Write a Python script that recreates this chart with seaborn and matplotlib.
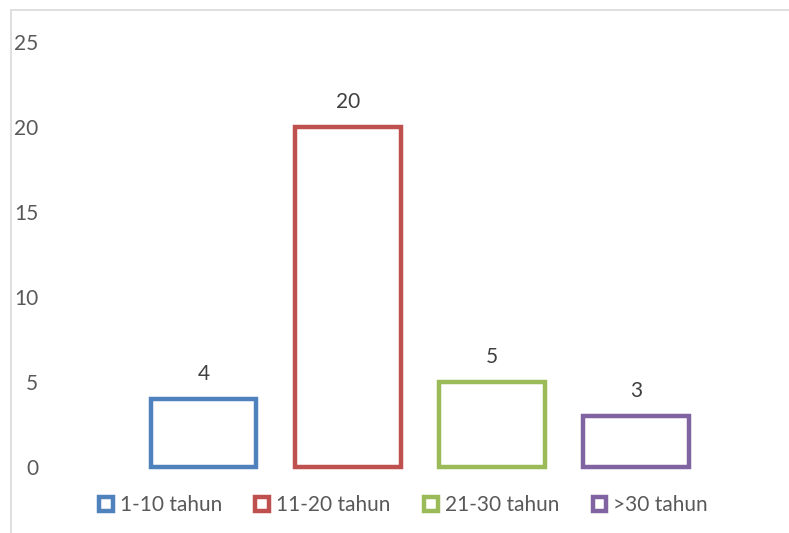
import matplotlib
matplotlib.use("Agg")
import matplotlib.pyplot as plt
import seaborn as sns
import pandas as pd
from matplotlib.patches import Patch
from matplotlib.lines import Line2D

categories = ["1-10 tahun", "11-20 tahun", "21-30 tahun", ">30 tahun"]
values = [4, 20, 5, 3]
colors = ["#4F81BD", "#C0504D", "#9BBB59", "#8064A2"]
yticks = [0, 5, 10, 15, 20, 25]

sns.set_theme(style="white")
plt.rcParams["font.family"] = ["Lato", "DejaVu Sans"]

W, H = 789, 533
fig = plt.figure(figsize=(W / 100, H / 100), dpi=100)
ax = fig.add_axes([45 / W, (H - 467) / H, (780 - 45) / W, (467 - 42) / H])

df = pd.DataFrame({"cat": categories, "val": values})
sns.barplot(data=df, x="cat", y="val", hue="cat", palette=colors, fill=False,
            linewidth=3.2, width=0.735, dodge=False, legend=False, ax=ax)

for p in ax.patches:
    p.set_clip_on(False)

for c in ax.containers:
    ax.bar_label(c, padding=11, fontsize=15, color="#404040")

ax.set_xlim(-1.1, 4.0)
ax.set_ylim(0, 25)
ax.set_yticks(yticks)
ax.set_yticklabels([str(t) for t in yticks], fontsize=15, color="#595959")
ax.tick_params(axis="y", length=0, pad=5)
ax.set_xticks([])
ax.set_xlabel("")
ax.set_ylabel("")
for s in ax.spines.values():
    s.set_visible(False)

handles = [Patch(facecolor="white", edgecolor=col, linewidth=3.2, label=lab)
           for col, lab in zip(colors, categories)]
leg = fig.legend(handles=handles, loc="center", ncol=4,
                 bbox_to_anchor=(403.5 / W, 1 - 505 / H), bbox_transform=fig.transFigure,
                 frameon=False, fontsize=15, handlelength=0.65, handleheight=0.65,
                 handletextpad=0.35, columnspacing=1.6)
for t in leg.get_texts():
    t.set_color("#595959")

fig.add_artist(Line2D([11 / W, 1], [1 - 10 / H, 1 - 10 / H], color="#D9D9D9", lw=1.2))
fig.add_artist(Line2D([11 / W, 11 / W], [0, 1 - 10 / H], color="#D9D9D9", lw=1.2))

fig.savefig("out.png", dpi=100, facecolor="white")
